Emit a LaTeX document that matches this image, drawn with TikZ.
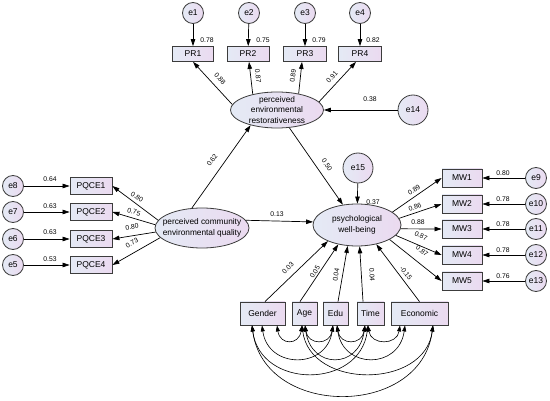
\documentclass[tikz,border=0pt]{standalone}
\usepackage{fontspec}
\setmainfont{Liberation Sans}
\usetikzlibrary{arrows.meta,shapes.geometric}
\definecolor{fillL}{HTML}{E4EAF5}
\definecolor{fillR}{HTML}{EBDAF0}
\definecolor{edgec}{HTML}{3C3C3C}
\begin{document}
\begin{tikzpicture}[x=1pt,y=-1pt,
  obs/.style={rectangle, draw=edgec, line width=0.8pt, left color=fillL, right color=fillR,
    minimum width=#1, inner sep=0pt, font=\fontsize{8.5}{10}\selectfont},
  lat/.style={ellipse, draw=edgec, line width=0.8pt, left color=fillL, right color=fillR, inner sep=0pt},
  lattext/.style={align=center, inner sep=0pt, font=\fontsize{8.3}{10.5}\selectfont},
  err/.style={circle, draw=edgec, line width=0.8pt, left color=fillL, right color=fillR,
    minimum size=#1, inner sep=0pt, font=\fontsize{8.5}{10}\selectfont},
  arr/.style={draw=black, line width=0.7pt, -{Triangle[length=7pt,width=4.5pt]}},
  cov/.style={draw=black, line width=0.6pt, {Triangle[length=6pt,width=4pt]}-{Triangle[length=6pt,width=4pt]}},
  num/.style={inner sep=0.5pt, font=\fontsize{6.8}{8}\selectfont}
]
\fill[white] (0,0) rectangle (550,401);
\useasboundingbox (0,0) rectangle (550,401);

% ---- top: restorativeness indicators
\node[err=21] (e1) at (193,13) {e1};
\node[err=21] (e2) at (249,13) {e2};
\node[err=21] (e3) at (305,13) {e3};
\node[err=21] (e4) at (360,13) {e4};
\node[obs=41, minimum height=15] (PR1) at (193,54) {PR1};
\node[obs=42, minimum height=15] (PR2) at (248,54) {PR2};
\node[obs=43, minimum height=15] (PR3) at (305,54) {PR3};
\node[obs=43, minimum height=15] (PR4) at (360,54) {PR4};

\node[lat, minimum width=93, minimum height=36] (PER) at (277,110) {};
\node[lattext] (PERt) at (PER) {perceived\\environmental\\restorativeness};
\node[err=30] (e14) at (413,110) {e14};

% ---- left: community quality
\node[lat, minimum width=94, minimum height=40] (PCEQ) at (202,228) {};
\node[lattext] (PCEQt) at (PCEQ) {perceived community\\environmental quality};
\node[obs=42, minimum height=17] (PQCE1) at (91,186) {PQCE1};
\node[obs=42, minimum height=17] (PQCE2) at (91,212) {PQCE2};
\node[obs=42, minimum height=17] (PQCE3) at (91,239) {PQCE3};
\node[obs=42, minimum height=17] (PQCE4) at (91,265) {PQCE4};
\node[err=21] (e8) at (13,186) {e8};
\node[err=21] (e7) at (13,212) {e7};
\node[err=21] (e6) at (13,239) {e6};
\node[err=21] (e5) at (13,265) {e5};

% ---- right: well-being
\node[lat, minimum width=88, minimum height=42] (PWB) at (357,225) {};
\node[lattext] (PWBt) at (PWB) {psychological\\well-being};
\node[err=30] (e15) at (358,168) {e15};
\node[obs=40, minimum height=18] (MW1) at (462,178) {MW1};
\node[obs=40, minimum height=18] (MW2) at (462,204) {MW2};
\node[obs=40, minimum height=18] (MW3) at (462,229) {MW3};
\node[obs=40, minimum height=18] (MW4) at (462,255) {MW4};
\node[obs=40, minimum height=18] (MW5) at (462,281) {MW5};
\node[err=21] (e9) at (536,178) {e9};
\node[err=21] (e10) at (536,204) {e10};
\node[err=21] (e11) at (536,229) {e11};
\node[err=21] (e12) at (536,255) {e12};
\node[err=21] (e13) at (536,281) {e13};

% ---- covariates
\node[obs=45, minimum height=23] (Gender) at (262.5,313.5) {Gender};
\node[obs=25, minimum height=23] (Age) at (304.5,313.5) {Age};
\node[obs=25, minimum height=23] (Edu) at (335.5,313.5) {Edu};
\node[obs=27, minimum height=23] (Time) at (370.5,313.5) {Time};
\node[obs=57, minimum height=23] (Economic) at (419.5,313.5) {Economic};

% ---- error arrows
\draw[arr] (e1) -- (PR1);
\draw[arr] (e2) -- (PR2);
\draw[arr] (e3) -- (PR3);
\draw[arr] (e4) -- (PR4);
\draw[arr] (e14) -- (PER);
\draw[arr] (e15) -- (PWB);
\draw[arr] (e8) -- (PQCE1);
\draw[arr] (e7) -- (PQCE2);
\draw[arr] (e6) -- (PQCE3);
\draw[arr] (e5) -- (PQCE4);
\draw[arr] (e9) -- (MW1);
\draw[arr] (e10) -- (MW2);
\draw[arr] (e11) -- (MW3);
\draw[arr] (e12) -- (MW4);
\draw[arr] (e13) -- (MW5);

% ---- loadings
\draw[arr] (PER.173) -- (PR1.south);
\draw[arr] (PER.147) -- ([xshift=1]PR2.south);
\draw[arr] (PER.37) -- ([xshift=-3]PR3.south);
\draw[arr] (PER.11) -- ([xshift=-4]PR4.south);
\draw[arr] (PCEQ.170) -- (PQCE1.east);
\draw[arr] (PCEQ.176) -- (PQCE2.east);
\draw[arr] (PCEQ.185) -- (PQCE3.east);
\draw[arr] (PCEQ.193) -- (PQCE4.east);
\draw[arr] (PWB.20) -- (MW1.west);
\draw[arr] (PWB.9) -- (MW2.west);
\draw[arr] (PWB.-5) -- (MW3.west);
\draw[arr] (PWB.-15) -- (MW4.west);
\draw[arr] (PWB.-24) -- (MW5.west);

% ---- structural paths
\draw[arr] (PCEQ.117) -- (PER.210);
\draw[arr] (PER) -- (PWB);
\draw[arr] (PCEQ.10) -- (PWB.176);
\draw[arr] ([xshift=2.5]Gender.north) -- (PWB.209);
\draw[arr] ([xshift=-4.5]Age.north) -- (PWB.226);
\draw[arr] ([xshift=2.5]Edu.north) -- (PWB.246);
\draw[arr] ([xshift=-7.5]Time.north) -- (PWB.277);
\draw[arr] (Economic.north) -- (PWB.315);

% ---- covariances
\draw[cov] ([xshift=14.5]Gender.south) .. controls +(3,20) and +(-3,20) .. ([xshift=-2.5]Age.south);
\draw[cov] ([xshift=0.5]Age.south) .. controls +(3,20) and +(-3,20) .. ([xshift=-2.5]Edu.south);
\draw[cov] ([xshift=1.5]Edu.south) .. controls +(3,20) and +(-3,20) .. ([xshift=-5.5]Time.south);
\draw[cov] ([xshift=-2.5]Time.south) .. controls +(3,20) and +(-3,20) .. ([xshift=-19.5]Economic.south);
\draw[cov] ([xshift=-0.5]Gender.south) .. controls +(6,44) and +(-6,44) .. ([xshift=-2.5]Edu.south);
\draw[cov] ([xshift=0.5]Age.south) .. controls +(6,44) and +(-6,44) .. ([xshift=-5.5]Time.south);
\draw[cov] ([xshift=1.5]Edu.south) .. controls +(6,44) and +(-6,44) .. ([xshift=-14.5]Economic.south);
\draw[cov] ([xshift=-10.5]Gender.south) .. controls +(8,64) and +(-8,64) .. ([xshift=-2.5]Time.south);
\draw[cov] ([xshift=-2.5]Age.south) .. controls +(8,64) and +(-8,64) .. ([xshift=13.5]Economic.south);
\draw[cov] ([xshift=-10.5]Gender.south) .. controls +(12,93) and +(-12,93) .. ([xshift=13.5]Economic.south);

% ---- numbers
\node[num] (n1) at (207,40) {0.78};
\node[num] (n2) at (263,40) {0.75};
\node[num] (n3) at (319,40) {0.79};
\node[num] (n4) at (373,40) {0.82};
\node[num, rotate=-47] (l1) at (220,79) {0.88};
\node[num, rotate=-83] (l2) at (258,76) {0.87};
\node[num, rotate=82] (l3) at (293,76) {0.89};
\node[num, rotate=47] (l4) at (332,77) {0.91};
\node[num] (n14) at (370,99) {0.38};
\node[num] (n15) at (373,202) {0.37};
\node[num] (n8) at (50,179) {0.64};
\node[num] (n7) at (50,206) {0.63};
\node[num] (n6) at (50,232) {0.63};
\node[num] (n5) at (50,259) {0.53};
\node[num, rotate=-33] (q1) at (137,197) {0.80};
\node[num, rotate=-16] (q2) at (134,212) {0.75};
\node[num, rotate=9] (q3) at (132,227) {0.80};
\node[num, rotate=30] (q4) at (132,243) {0.73};
\node[num] (n9) at (503,173) {0.80};
\node[num] (n10) at (503,199) {0.78};
\node[num] (n11) at (503,224) {0.78};
\node[num] (n12) at (503,250) {0.78};
\node[num] (n13) at (503,276) {0.76};
\node[num, rotate=34] (m1) at (414,190) {0.89};
\node[num, rotate=20] (m2) at (415,207) {0.86};
\node[num] (m3) at (418,222) {0.88};
\node[num, rotate=-24] (m4) at (421,236) {0.87};
\node[num, rotate=-37] (m5) at (422,251) {0.87};
\node[num, rotate=54] (s1) at (212,160) {0.62};
\node[num, rotate=-55] (s2) at (327,165) {0.50};
\node[num] (s3) at (277,214) {0.13};
\node[num, rotate=45] (c1) at (288,268) {0.03};
\node[num, rotate=58] (c2) at (315,272) {0.05};
\node[num, rotate=81] (c3) at (336,275) {0.04};
\node[num, rotate=-87] (c4) at (372,275) {0.04};
\node[num, rotate=-53] (c5) at (406,273) {-0.15};
\end{tikzpicture}
\end{document}
